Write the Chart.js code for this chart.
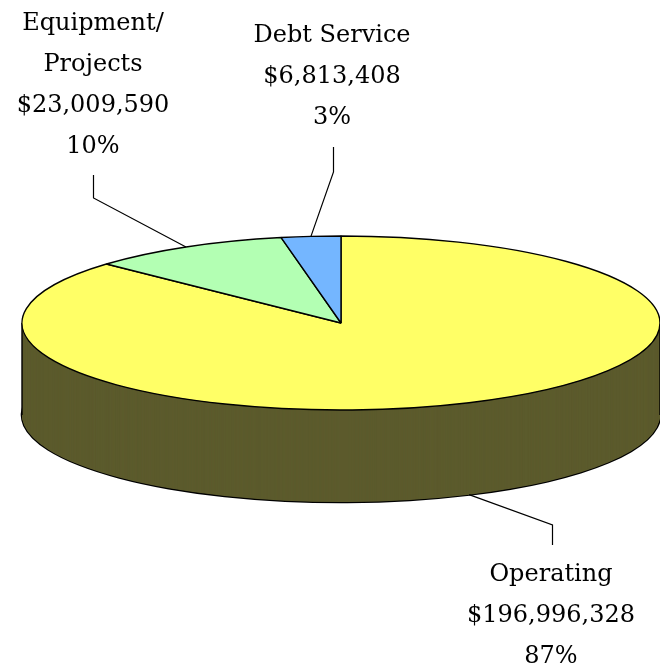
<!DOCTYPE html>
<html><head><meta charset="utf-8">
<script src="https://cdn.jsdelivr.net/npm/chart.js@4.4.0/dist/chart.umd.min.js"></script>
<style>html,body{margin:0;padding:0;background:#fff}#wrap{position:relative;width:660px;height:669px}</style>
</head><body><div id="wrap"><canvas id="c"></canvas></div>
<script>
// ---- data ----
const categories = ['Operating', 'Equipment/\nProjects', 'Debt Service'];
const amounts = [196996328, 23009590, 6813408];

// ---- styles / layout ----
const sliceColors = ['#ffff66', '#b3ffb3', '#74b6ff'];
const sideColors = ['#5c5b2d', '#416741', '#2a4a70'];
const GEOM = {cx: 341, cy: 323, rx: 319, ry: 87, depth: 92};
const LABEL_LAYOUT = [
  {x: 551, y: 581, leader: [[552, 545], [552, 525]]},
  {x: 93,  y: 30,  leader: [[93, 175], [93, 198]]},
  {x: 332, y: 42,  leader: [[333, 147], [333, 172]]}
];
const LINE_H = 41;

const pie3d = {
  id: 'pie3d',
  beforeDatasetsDraw(chart) {
    const ctx = chart.ctx, dpr = chart.currentDevicePixelRatio || 1;
    const els = chart.getDatasetMeta(0).data;
    const ox = els[0].x, oy = els[0].y, r0 = els[0].outerRadius;
    const setProj = (rx, ry, dy) => {
      const sx = rx / r0, sy = ry / r0;
      ctx.setTransform(dpr * sx, 0, 0, dpr * sy, dpr * (GEOM.cx - ox * sx), dpr * (GEOM.cy + dy - oy * sy));
    };
    const drawWith = (el, over) => {
      const saved = el.options;
      el.options = Object.assign({}, saved, over);
      el.draw(ctx);
      el.options = saved;
    };
    ctx.save();
    // bottom rim outline
    setProj(GEOM.rx + 1.3, GEOM.ry + 1.3, GEOM.depth);
    els.forEach(el => drawWith(el, {backgroundColor: '#000', borderWidth: 0}));
    // side walls
    for (let dy = GEOM.depth; dy >= 0.5; dy -= 0.5) {
      setProj(GEOM.rx, GEOM.ry, dy);
      els.forEach((el, i) => drawWith(el, {backgroundColor: sideColors[i], borderWidth: 0}));
    }
    // vertical edges of the wall
    ctx.setTransform(dpr, 0, 0, dpr, 0, 0);
    ctx.strokeStyle = '#000';
    ctx.lineWidth = 1.4;
    ctx.beginPath();
    ctx.moveTo(GEOM.cx - GEOM.rx, GEOM.cy);
    ctx.lineTo(GEOM.cx - GEOM.rx, GEOM.cy + GEOM.depth);
    ctx.moveTo(GEOM.cx + GEOM.rx, GEOM.cy);
    ctx.lineTo(GEOM.cx + GEOM.rx, GEOM.cy + GEOM.depth);
    ctx.stroke();
    // top face
    setProj(GEOM.rx, GEOM.ry, 0);
    ctx.stroke = function () {
      this.save();
      this.setTransform(dpr, 0, 0, dpr, 0, 0);
      CanvasRenderingContext2D.prototype.stroke.call(this);
      this.restore();
    };
    els.forEach(el => drawWith(el, {borderWidth: 1.4, borderColor: '#000'}));
    delete ctx.stroke;
    ctx.restore();
    return false;
  },
  afterDraw(chart) {
    const ctx = chart.ctx;
    const els = chart.getDatasetMeta(0).data;
    const total = amounts.reduce((a, b) => a + b, 0);
    ctx.save();
    ctx.font = '24px "DejaVu Serif"';
    ctx.fillStyle = '#000';
    ctx.textAlign = 'center';
    ctx.textBaseline = 'alphabetic';
    categories.forEach((cat, i) => {
      const L = LABEL_LAYOUT[i];
      const lines = cat.split('\n').concat([
        '$' + amounts[i].toLocaleString('en-US'),
        Math.round(amounts[i] / total * 100) + '%'
      ]);
      lines.forEach((t, k) => ctx.fillText(t, L.x, L.y + k * LINE_H));
      const el = els[i];
      const a = (el.startAngle + el.endAngle) / 2;
      const ax = GEOM.cx + GEOM.rx * Math.cos(a);
      const ay = GEOM.cy + GEOM.ry * Math.sin(a) + (Math.sin(a) > 0.2 ? GEOM.depth : 0);
      ctx.beginPath();
      ctx.strokeStyle = '#000';
      ctx.lineWidth = 1.2;
      ctx.moveTo(L.leader[0][0] + 0.5, L.leader[0][1]);
      ctx.lineTo(L.leader[1][0] + 0.5, L.leader[1][1]);
      ctx.lineTo(ax, ay);
      ctx.stroke();
    });
    ctx.restore();
  }
};

new Chart(document.getElementById('c'), {
  type: 'pie',
  data: {
    labels: categories,
    datasets: [{data: amounts, backgroundColor: sliceColors, borderColor: '#000', borderWidth: 1}]
  },
  options: {
    responsive: true,
    maintainAspectRatio: false,
    animation: false,
    events: [],
    plugins: {legend: {display: false}, tooltip: {enabled: false}}
  },
  plugins: [pie3d]
});
</script>
</body></html>
